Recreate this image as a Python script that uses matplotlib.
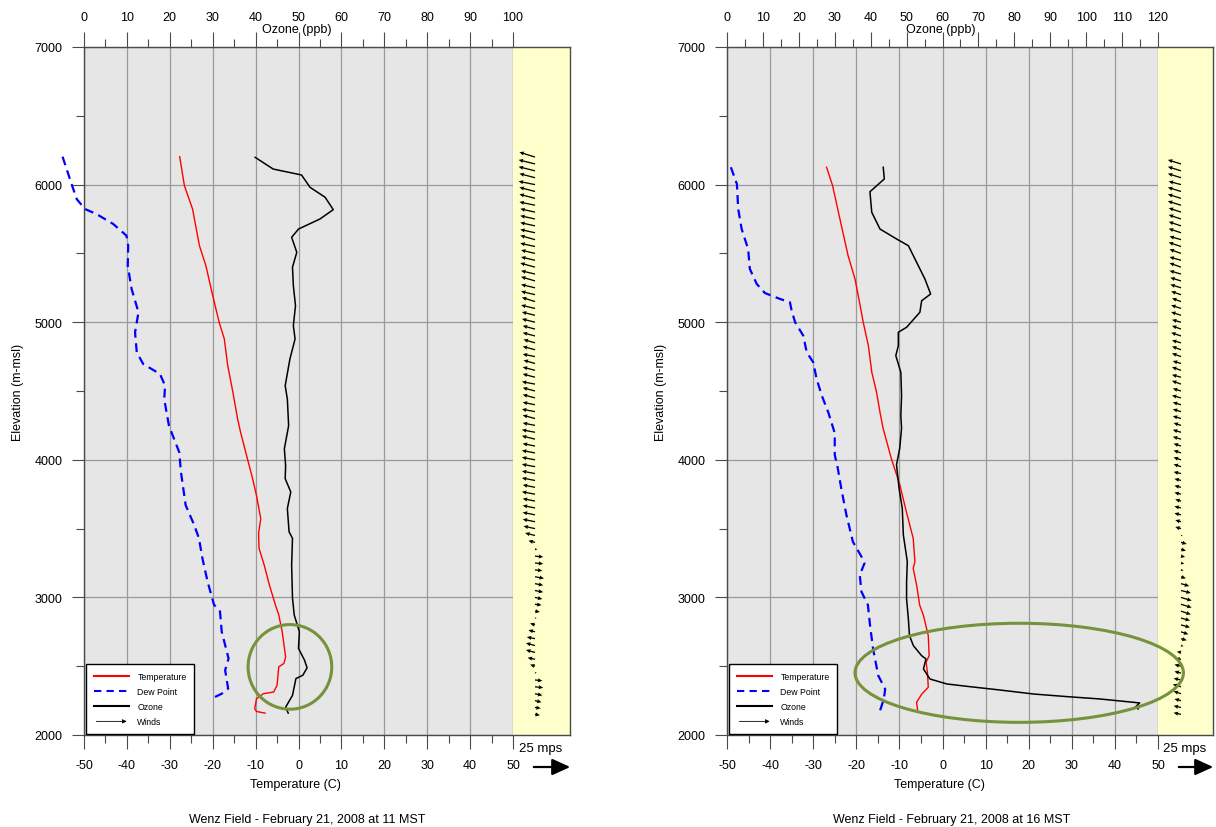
import numpy as np
import matplotlib
matplotlib.use('Agg')
import matplotlib.pyplot as plt
from matplotlib.patches import Ellipse, FancyArrowPatch
from matplotlib.lines import Line2D
from matplotlib.legend_handler import HandlerBase
from matplotlib.ticker import MultipleLocator

plt.rcParams['font.family'] = ['Liberation Sans', 'DejaVu Sans']
plt.rcParams['axes.unicode_minus'] = False

# ---- 11 MST sounding ----
temp_l_elev = [6203, 5993, 5823, 5557, 5412, 5194, 5000, 4879, 4685, 4492, 4298, 4200, 4007, 3863,
               3742, 3573, 3465, 3357, 3236, 3092, 2947, 2873, 2751, 2568, 2520, 2495, 2361, 2312,
               2300, 2263, 2190, 2171, 2159]
temp_l = [-27.7, -26.6, -24.7, -23.1, -21.6, -20.0, -18.5, -17.3, -16.5, -15.3, -14.2, -13.5, -11.9, -10.7,
          -9.8, -8.8, -9.3, -9.2, -8.0, -6.8, -5.4, -4.6, -3.8, -3.0, -3.4, -4.6, -5.0, -5.8,
          -8.2, -9.8, -10.2, -9.8, -7.8]

dew_l_elev = [6203, 6004, 5895, 5823, 5786, 5714, 5629, 5556, 5410, 5241, 5072, 4927, 4781, 4696,
              4624, 4539, 4441, 4248, 4055, 3911, 3670, 3525, 3429, 3284, 3116, 2947, 2898, 2751,
              2556, 2471, 2337, 2300, 2276, 2263]
dew_l = [-55.0, -52.9, -51.7, -49.8, -47.1, -43.2, -40.1, -39.7, -39.8, -38.9, -37.3, -38.1, -37.7, -36.2,
         -32.3, -31.1, -31.3, -30.2, -27.8, -27.4, -26.3, -24.3, -23.2, -22.4, -21.2, -19.7, -18.3, -17.9,
         -16.3, -17.1, -16.4, -17.9, -19.5, -20.7]

ozone_l_elev = [6198, 6113, 6070, 5980, 5908, 5818, 5750, 5677, 5617, 5508, 5400, 5265, 5120, 4975,
                4878, 4733, 4539, 4441, 4248, 4080, 3959, 3863, 3766, 3646, 3477, 3429, 3236, 2995,
                2873, 2751, 2629, 2544, 2488, 2434, 2410, 2288, 2202, 2159]
ozone_l = [39.9, 44.1, 50.7, 52.7, 56.2, 58.1, 55.0, 50.0, 48.4, 49.6, 48.6, 48.8, 49.3, 48.8,
           49.2, 48.0, 46.9, 47.4, 47.7, 46.7, 47.0, 46.9, 48.2, 47.4, 47.8, 48.6, 48.4, 48.6,
           49.0, 50.2, 50.0, 51.4, 52.0, 51.0, 49.4, 48.6, 47.0, 47.6]

wind_l_elev = [2150, 2200, 2250, 2300, 2350, 2400, 2450, 2500, 2550, 2600, 2650, 2700, 2750, 2800,
               2850, 2900, 2950, 3000, 3050, 3100, 3150, 3200, 3250, 3300, 3350, 3400, 3450, 3500,
               3550, 3600, 3650, 3700, 3750, 3800, 3850, 3900, 3950, 4000, 4050, 4100, 4150, 4200,
               4250, 4300, 4350, 4400, 4450, 4500, 4550, 4600, 4650, 4700, 4750, 4800, 4850, 4900,
               4950, 5000, 5050, 5100, 5150, 5200, 5250, 5300, 5350, 5400, 5450, 5500, 5550, 5600,
               5650, 5700, 5750, 5800, 5850, 5900, 5950, 6000, 6050, 6100, 6150, 6200]
wind_l_u = [3.0, 3.5, 4.0, 4.5, 5.0, 4.5, 1.0, -3.0, -4.5, -5.5, -5.5, -5.0, -4.0, -3.0,
            1.0, 3.0, 4.0, 4.5, 5.0, 5.0, 5.5, 4.5, 5.0, 5.0, 1.5, -4.0, -6.0, -7.0,
            -7.5, -7.5, -7.5, -7.5, -8.0, -7.5, -8.0, -8.0, -8.0, -8.0, -8.0, -7.5, -8.0, -8.0,
            -7.5, -7.5, -8.0, -7.5, -7.5, -7.5, -8.0, -7.5, -7.5, -7.0, -7.5, -7.5, -7.0, -7.5,
            -7.5, -8.0, -8.0, -8.5, -8.0, -8.5, -8.5, -8.5, -8.5, -9.0, -8.5, -8.5, -9.0, -9.0,
            -9.0, -9.0, -9.0, -9.0, -9.5, -9.5, -9.5, -10.0, -9.5, -10.0, -10.0, -9.5]
wind_l_v = [-0.5, -0.5, -1.0, -1.0, -0.5, -0.5, 0.5, 1.0, 1.0, 1.5, 1.5, 1.0, 1.0, 1.0,
            0.0, -0.5, -0.5, -1.0, -1.0, -1.0, -1.0, -0.5, -0.5, -0.5, 0.0, 1.0, 1.5, 1.5,
            1.5, 1.5, 1.5, 1.5, 1.5, 1.5, 1.5, 1.5, 1.5, 1.5, 1.5, 1.5, 2.0, 1.5,
            1.5, 2.0, 1.5, 1.5, 2.0, 2.0, 1.5, 2.0, 2.0, 2.0, 1.5, 2.0, 2.0, 2.0,
            2.0, 2.0, 2.0, 2.0, 2.5, 2.0, 2.0, 2.5, 2.0, 2.5, 2.0, 2.0, 2.0, 2.5,
            2.0, 2.0, 2.0, 2.0, 2.0, 2.5, 2.5, 2.0, 2.5, 2.5, 2.5, 3.0]

# ---- 16 MST sounding ----
temp_r_elev = [6126, 5992, 5750, 5483, 5314, 5120, 5000, 4829, 4636, 4491, 4345, 4231, 4012, 3818,
               3624, 3430, 3260, 3211, 3090, 2944, 2867, 2722, 2576, 2528, 2456, 2347, 2298, 2238,
               2184]
temp_r = [-26.9, -25.5, -23.8, -21.9, -20.3, -19.1, -18.4, -17.2, -16.4, -15.3, -14.5, -13.8, -11.9, -9.9,
          -8.4, -6.8, -6.4, -6.8, -6.0, -5.3, -4.4, -3.3, -3.1, -3.8, -3.5, -3.3, -4.8, -6.0,
          -5.8]

dew_r_elev = [6126, 6004, 5823, 5677, 5532, 5387, 5278, 5212, 5169, 5145, 5084, 5000, 4902, 4781,
              4709, 4587, 4466, 4345, 4194, 4036, 3939, 3794, 3600, 3405, 3296, 3248, 3163, 3041,
              2944, 2794, 2625, 2431, 2334, 2262, 2177]
dew_r = [-49.1, -47.7, -47.4, -46.6, -45.1, -44.7, -43.1, -41.2, -37.7, -35.4, -35.0, -34.2, -32.3, -31.5,
         -30.0, -29.2, -28.0, -26.5, -25.0, -25.0, -24.3, -23.5, -22.3, -20.8, -18.8, -18.1, -19.2, -18.8,
         -17.3, -16.8, -16.1, -14.9, -13.3, -13.6, -14.5]

ozone_r_elev = [6126, 6041, 5948, 5799, 5677, 5605, 5556, 5435, 5314, 5205, 5156, 5072, 4963, 4927,
                4829, 4757, 4636, 4466, 4321, 4231, 4085, 3964, 3794, 3648, 3454, 3260, 3114, 2988,
                2843, 2722, 2649, 2576, 2553, 2480, 2407, 2371, 2354, 2327, 2298, 2279, 2262, 2233,
                2201, 2189]
ozone_r = [43.5, 43.8, 39.8, 40.3, 42.6, 47.2, 50.5, 52.8, 55.1, 56.7, 54.2, 53.7, 50.0, 47.7,
           47.7, 47.0, 48.4, 48.6, 48.4, 48.6, 48.1, 47.2, 47.9, 48.8, 49.1, 50.2, 50.0, 50.0,
           50.5, 50.8, 51.9, 54.2, 55.4, 54.7, 56.5, 61.2, 66.7, 76.0, 85.3, 94.6, 103.8, 114.9,
           113.6, 114.5]

wind_r_elev = [2150, 2200, 2250, 2300, 2350, 2400, 2450, 2500, 2550, 2600, 2650, 2700, 2750, 2800,
               2850, 2900, 2950, 3000, 3050, 3100, 3150, 3200, 3250, 3300, 3350, 3400, 3450, 3500,
               3550, 3600, 3650, 3700, 3750, 3800, 3850, 3900, 3950, 4000, 4050, 4100, 4150, 4200,
               4250, 4300, 4350, 4400, 4450, 4500, 4550, 4600, 4650, 4700, 4750, 4800, 4850, 4900,
               4950, 5000, 5050, 5100, 5150, 5200, 5250, 5300, 5350, 5400, 5450, 5500, 5550, 5600,
               5650, 5700, 5750, 5800, 5850, 5900, 5950, 6000, 6050, 6100, 6150]
wind_r_u = [-4.5, -4.5, -4.0, -4.5, -5.0, -4.5, -4.0, -4.0, -3.5, -2.5, 1.5, 3.5, 4.5, 5.5,
            5.5, 6.0, 6.5, 6.5, 6.0, 5.0, 3.0, 1.5, 2.0, 2.5, 3.0, 3.5, 1.0, -3.5,
            -3.5, -4.0, -4.0, -3.5, -4.0, -4.0, -4.0, -4.5, -4.5, -4.5, -4.5, -4.5, -5.0, -5.0,
            -4.5, -5.0, -5.0, -5.0, -5.5, -5.0, -5.5, -5.5, -5.5, -5.0, -5.5, -5.5, -5.5, -6.0,
            -5.5, -5.5, -6.0, -6.0, -5.5, -6.0, -6.5, -6.5, -7.0, -7.0, -7.0, -7.0, -7.5, -7.0,
            -7.5, -7.5, -7.5, -7.5, -8.0, -8.0, -8.0, -7.5, -8.0, -8.0, -8.0]
wind_r_v = [1.0, 1.0, 1.0, 1.5, 1.5, 1.0, 1.0, 1.0, 0.5, 0.5, -0.5, -1.0, -1.5, -1.5,
            -1.5, -2.0, -2.0, -2.0, -1.5, -1.5, -1.0, -0.5, -0.5, -0.5, -1.0, -1.0, 0.0, 1.0,
            1.0, 1.0, 1.0, 1.0, 1.0, 1.0, 1.0, 1.0, 1.5, 1.5, 1.5, 1.5, 1.5, 1.5,
            1.5, 1.5, 1.5, 1.5, 1.5, 1.5, 2.0, 1.5, 2.0, 1.5, 2.0, 2.0, 1.5, 2.0,
            2.0, 1.5, 2.0, 2.0, 2.0, 2.0, 2.0, 2.0, 2.0, 2.5, 2.0, 2.5, 2.5, 2.0,
            2.5, 2.5, 2.5, 2.5, 2.5, 2.5, 2.5, 2.0, 2.5, 2.5, 2.5]

W, H = 1216, 828
GRAY_BG = '#e6e6e6'
GRID = '#9a9a9a'
SPINE = '#4a4a4a'
OLIVE = '#76923c'


class WindHandler(HandlerBase):
    def create_artists(self, legend, orig_handle, xdescent, ydescent, width, height, fontsize, trans):
        y = height / 2 - ydescent
        a = FancyArrowPatch((-xdescent, y), (width - xdescent, y), arrowstyle='-|>',
                            mutation_scale=6, lw=0.6, color='black', transform=trans)
        return [a]


def frac(x, y):
    return x / W, 1 - y / H


def panel(left, right, strip_right, o3_max, t_e, t, d_e, d, o_e, o, w_e, w_u, w_v, tail,
          ell, title):
    x0, y0 = frac(left, 736)
    ax = fig.add_axes([x0, y0, (right - left) / W, 688 / H])
    ax.set_facecolor(GRAY_BG)
    ax.set_xlim(-50, 50)
    ax.set_ylim(2000, 7000)
    ax.xaxis.set_major_locator(MultipleLocator(10))
    ax.xaxis.set_minor_locator(MultipleLocator(5))
    ax.yaxis.set_major_locator(MultipleLocator(1000))
    ax.yaxis.set_minor_locator(MultipleLocator(500))
    ax.grid(True, which='major', color=GRID, lw=0.9)
    ax.set_axisbelow(True)
    ax.tick_params(axis='x', which='major', length=10, width=0.8, color=SPINE, pad=7.5, labelsize=9)
    ax.tick_params(axis='x', which='minor', length=6, width=0.8, color=SPINE)
    ax.tick_params(axis='y', which='major', length=8.5, width=0.8, color=SPINE, pad=7, labelsize=9)
    ax.tick_params(axis='y', which='minor', length=5.5, width=0.8, color=SPINE)
    ax.tick_params(top=False, right=False, which='both')
    for s in ['left', 'bottom']:
        ax.spines[s].set_color(SPINE)
        ax.spines[s].set_linewidth(1.0)
    ax.spines['top'].set_visible(False)
    ax.spines['right'].set_color('#aaaaaa')

    ax.plot(t, t_e, color='red', lw=1.0, zorder=3)
    ax.plot(d, d_e, color='blue', lw=1.6, ls=(0, (4, 2.5)), zorder=3, clip_on=False)

    ax2 = ax.twiny()
    ax2.set_xlim(0, o3_max)
    ax2.xaxis.set_major_locator(MultipleLocator(10))
    ax2.xaxis.set_minor_locator(MultipleLocator(5))
    ax2.tick_params(axis='x', which='major', length=10.5, width=0.8, color=SPINE, pad=7, labelsize=9)
    ax2.tick_params(axis='x', which='minor', length=6, width=0.8, color=SPINE)
    for s in ['left', 'right', 'bottom']:
        ax2.spines[s].set_visible(False)
    ax2.spines['top'].set_color(SPINE)
    ax2.spines['top'].set_linewidth(1.0)
    ax2.plot(o, o_e, color='black', lw=1.1, zorder=3)

    wind_handle = FancyArrowPatch((0, 0), (1, 0))
    handles = [Line2D([], [], color='red', lw=1.5),
               Line2D([], [], color='blue', lw=1.5, ls=(0, (3.5, 2.5))),
               Line2D([], [], color='black', lw=1.5),
               wind_handle]
    leg = ax2.legend(handles, ['Temperature', 'Dew Point', 'Ozone', 'Winds'],
                     handler_map={wind_handle: WindHandler()},
                     loc='lower left', bbox_to_anchor=(0.004, 0.001), borderaxespad=0,
                     fontsize=6.3, handlelength=4.1, handletextpad=0.9, labelspacing=0.7,
                     borderpad=0.9, fancybox=False, framealpha=1, edgecolor='black')
    leg.get_frame().set_linewidth(1.0)

    # wind strip
    axs = fig.add_axes([right / W, y0, (strip_right - right) / W, 688 / H])
    axs.set_facecolor('#ffffcc')
    axs.set_xlim(0, 1)
    axs.set_ylim(2000, 7000)
    axs.set_xticks([])
    axs.set_yticks([])
    axs.spines['left'].set_visible(False)
    for s in ['top', 'bottom', 'right']:
        axs.spines[s].set_color(SPINE)
        axs.spines[s].set_linewidth(1.0)
    axs.quiver(np.full(len(w_e), tail), w_e, w_u, w_v, angles='uv', pivot='tail',
               scale_units='inches', scale=61, units='dots', width=1.3,
               headwidth=3.2, headlength=3.5, headaxislength=3.2, color='black', zorder=3)

    # highlight ellipse drawn over both the plot and the wind strip
    fig.add_artist(Ellipse(ell[:2], ell[2], ell[3], transform=ax.transData, fill=False,
                           ec=OLIVE, lw=2.2, zorder=5))

    # labels
    mid = (left + right) / 2
    fig.text(*frac(mid - 3, 785), 'Temperature (C)', ha='center', va='center', fontsize=9)
    fig.text(*frac(mid - 2, 30), 'Ozone (ppb)', ha='center', va='center', fontsize=9)
    fig.text(*frac(left - 66, 392), 'Elevation (m-msl)', rotation=90, ha='center',
             va='center', fontsize=9)
    fig.text(*frac(mid + 9, 820), title, ha='center', va='center', fontsize=9)
    sx = (right + strip_right) / 2
    fig.text(*frac(sx - 1, 749), '25 mps', ha='center', va='center', fontsize=9.5)
    ax.annotate('', xy=(strip_right + 3, H - 768), xytext=(right + 18, H - 768),
                xycoords='figure pixels', textcoords='figure pixels',
                arrowprops=dict(arrowstyle='-|>,head_length=1.1,head_width=0.5',
                                mutation_scale=10, lw=1.6, color='black'),
                annotation_clip=False)


fig = plt.figure(figsize=(W / 100, H / 100), dpi=100)

panel(84, 513, 570, 100, temp_l_elev, temp_l, dew_l_elev, dew_l, ozone_l_elev, ozone_l,
      wind_l_elev, wind_l_u, wind_l_v, 0.386, (-2.0, 2495, 19.5, 615),
      'Wenz Field - February 21, 2008 at 11 MST')
panel(727, 1158, 1213, 120, temp_r_elev, temp_r, dew_r_elev, dew_r, ozone_r_elev, ozone_r,
      wind_r_elev, wind_r_u, wind_r_v, 0.418, (17.8, 2452, 76.2, 720),
      'Wenz Field - February 21, 2008 at 16 MST')

fig.savefig('out.png', dpi=100)
